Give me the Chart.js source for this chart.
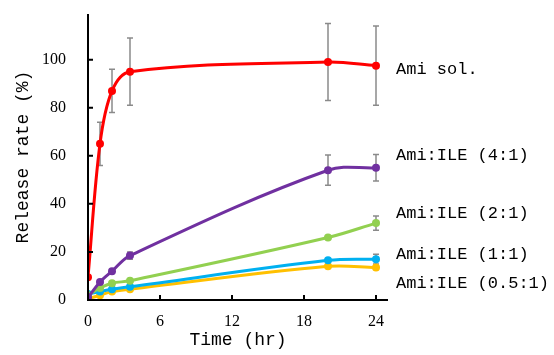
<!DOCTYPE html>
<html>
<head>
<meta charset="utf-8">
<script src="https://cdn.jsdelivr.net/npm/chart.js@4.4.0/dist/chart.umd.min.js"></script>
<style>
  html, body { margin: 0; padding: 0; background: #fff; }
  #wrap { width: 554px; height: 355px; }
</style>
</head>
<body>
<div id="wrap"><canvas id="releaseChart" width="554" height="355"></canvas></div>
<script>
// sampling times (hr)
const times = [0, 1, 2, 3.5, 20, 24];
const xTicks = [0, 6, 12, 18, 24];
const yTicks = [0, 20, 40, 60, 80, 100];

const seriesNames = ['Ami sol.', 'Ami:ILE (4:1)', 'Ami:ILE (2:1)', 'Ami:ILE (1:1)', 'Ami:ILE (0.5:1)'];

// release rate (%)
const amiSol = [9.5, 65, 87, 95, 99, 97.5];
const ile41 = [1, 7.5, 12, 18.5, 54, 55];
const ile21 = [2, 5, 7, 8, 26, 32];
const ile11 = [2.5, 3.5, 4.5, 5.5, 16.5, 17];
const ile051 = [0.5, 2, 3.5, 4.5, 14, 13.5];

// standard deviations
const amiSolSd = [0, 9, 9, 14, 16, 16.5];
const ile41Sd = [0, 0.5, 0.5, 1.5, 6.3, 5.5];
const ile21Sd = [0, 0, 0, 0, 0.5, 3];
const ile11Sd = [0, 0, 0, 0, 0.6, 2];
const ile051Sd = [0, 0, 0, 0, 0.5, 0.8];

// label y position (in data units) for the series names on the right
const labelY = [96, 60, 36, 19, 7];

const colors = ['#FF0000', '#7030A0', '#92D050', '#00B0F0', '#FFC000'];
const values = [amiSol, ile41, ile21, ile11, ile051];
const sds = [amiSolSd, ile41Sd, ile21Sd, ile11Sd, ile051Sd];

const datasets = values.map((vals, i) => ({
  label: seriesNames[i],
  data: vals.map((v, j) => ({ x: times[j], y: v })),
  borderColor: colors[i],
  backgroundColor: colors[i],
  borderWidth: 3,
  pointRadius: 4,
  pointBorderWidth: 0,
  tension: 0.35,
  sd: sds[i],
}));

/**
 * error bars + inside tick marks
 */
const errorBars = {
  id: 'errorBars',
  beforeDatasetsDraw(chart) {
    const { ctx, scales: { x, y } } = chart;
    ctx.save();
    ctx.strokeStyle = '#8a8a8a';
    ctx.lineWidth = 1.5;
    chart.data.datasets.forEach(ds => {
      ds.data.forEach((p, j) => {
        const sd = ds.sd[j];
        if (!sd) return;
        const px = x.getPixelForValue(p.x);
        const top = y.getPixelForValue(p.y + sd);
        const bot = y.getPixelForValue(p.y - sd);
        ctx.beginPath();
        ctx.moveTo(px, top); ctx.lineTo(px, bot);
        ctx.moveTo(px - 3, top); ctx.lineTo(px + 3, top);
        ctx.moveTo(px - 3, bot); ctx.lineTo(px + 3, bot);
        ctx.stroke();
      });
    });
    ctx.restore();
  },
  afterDraw(chart) {
    const { ctx, scales: { x, y }, chartArea } = chart;
    ctx.save();
    ctx.strokeStyle = '#000';
    ctx.lineWidth = 2;
    ctx.beginPath();
    ctx.moveTo(chartArea.left, chartArea.top);
    ctx.lineTo(chartArea.left, chartArea.bottom);
    ctx.lineTo(chartArea.right, chartArea.bottom);
    yTicks.forEach(t => {
      const py = y.getPixelForValue(t);
      ctx.moveTo(chartArea.left, py); ctx.lineTo(chartArea.left + 5, py);
    });
    xTicks.forEach(t => {
      const px = x.getPixelForValue(t);
      ctx.moveTo(px, chartArea.bottom); ctx.lineTo(px, chartArea.bottom - 5);
    });
    ctx.stroke();

    // series names
    ctx.fillStyle = '#000';
    ctx.font = '17px "Liberation Mono"';
    ctx.textBaseline = 'middle';
    ctx.textAlign = 'left';
    seriesNames.forEach((name, i) => {
      ctx.fillText(name, chartArea.right + 8, y.getPixelForValue(labelY[i]));
    });
    ctx.restore();
  },
};

const ctx = document.getElementById('releaseChart').getContext('2d');
new Chart(ctx, {
  type: 'line',
  data: { datasets },
  options: {
    responsive: false,
    animation: false,
    layout: { padding: { top: 14, right: 166, left: 0, bottom: 0 } },
    plugins: { legend: { display: false }, tooltip: { enabled: false } },
    scales: {
      x: {
        type: 'linear',
        min: 0,
        max: 25,
        afterBuildTicks(axis) { axis.ticks = xTicks.map(v => ({ value: v })); },
        afterFit(axis) {
          axis.height = 55;
          axis.paddingLeft = 0;
          axis.paddingRight = 0;
        },
        grid: { display: false },
        border: { display: false },
        ticks: { color: '#000', font: { family: 'Liberation Serif', size: 16 }, padding: 4, maxRotation: 0 },
        title: {
          display: true,
          text: 'Time (hr)',
          color: '#000',
          font: { family: 'Liberation Mono', size: 18 },
          padding: { top: 0 },
        },
      },
      y: {
        min: 0,
        max: 119,
        afterBuildTicks(axis) { axis.ticks = yTicks.map(v => ({ value: v })); },
        afterFit(axis) {
          axis.width = 88;
          axis.paddingTop = 0;
          axis.paddingBottom = 0;
        },
        grid: { display: false },
        border: { display: false },
        ticks: { color: '#000', font: { family: 'Liberation Serif', size: 16 }, padding: 14 },
        title: {
          display: true,
          text: 'Release rate (%)',
          color: '#000',
          font: { family: 'Liberation Mono', size: 18 },
          padding: { top: 12, bottom: 4 },
        },
      },
    },
  },
  plugins: [errorBars],
});
</script>
</body>
</html>
